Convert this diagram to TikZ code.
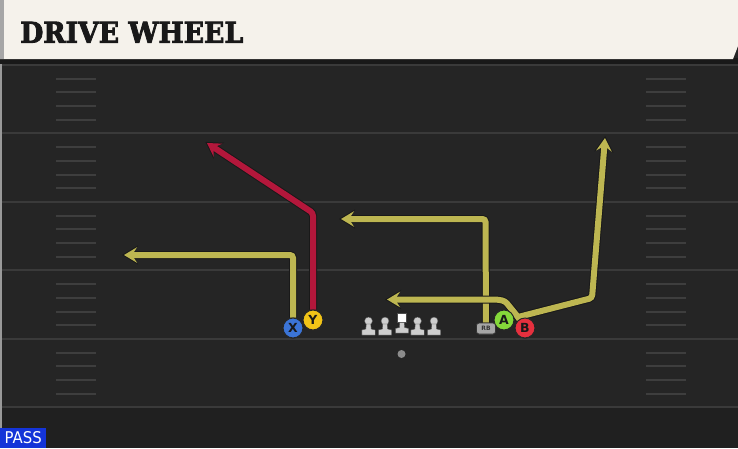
\documentclass[tikz,border=0pt]{standalone}
\usepackage{fontspec}
\setmainfont{DejaVu Sans}
\newfontfamily\titlefont{DejaVu Serif}[FakeBold=3]
\usetikzlibrary{arrows.meta}
\definecolor{field}{HTML}{252525}
\definecolor{fieldlow}{HTML}{202020}
\definecolor{cream}{HTML}{F5F2EB}
\definecolor{yardc}{HTML}{3A3A3A}
\definecolor{hashc}{HTML}{3E3E3E}
\definecolor{routeol}{HTML}{BDB651}
\definecolor{routered}{HTML}{B3173B}
\definecolor{pblue}{HTML}{3B74D6}
\definecolor{pyellow}{HTML}{F1C317}
\definecolor{pgreen}{HTML}{84D83A}
\definecolor{pred}{HTML}{E5303E}
\definecolor{lmgray}{HTML}{CDCDCD}
\definecolor{passblue}{HTML}{1434D8}
\tikzset{
  yard/.style={draw=yardc, line width=2pt},
  hash/.style={draw=hashc, line width=2pt},
  routeout/.style={draw=black!90, line width=8pt, rounded corners=3pt,
    -{Stealth[length=16pt,width=19pt,inset=6pt]}, shorten >=-2pt},
  routein/.style={line width=6pt, rounded corners=3pt,
    -{Stealth[length=13pt,width=15.5pt,inset=5pt]}},
  player/.style={circle, draw=black!85, line width=1pt, minimum size=20pt,
    inner sep=0pt, font=\fontsize{12.5}{12.5}\selectfont\bfseries, text=black!90},
  rbstyle/.style={draw=black!80, fill=black!35, rounded corners=2.5pt, line width=0.8pt,
    minimum width=19pt, minimum height=11pt, inner sep=0pt,
    font=\fontsize{6}{6}\selectfont\bfseries, text=black!80},
  lineman/.pic={
    \fill[lmgray, draw=black!70, line width=0.4pt] (0,-14) circle (4);
    \fill[lmgray, draw=black!70, line width=0.4pt]
      (-2.2,-11) -- (2.2,-11) -- (2.7,-6) -- (6.7,-5) -- (6.7,0) -- (-6.7,0) -- (-6.7,-5) -- (-2.7,-6) -- cycle;
  },
  center/.pic={
    \fill[white, draw=black!70, line width=0.4pt] (-4.5,-19.7) rectangle (4.5,-10.5);
    \fill[lmgray, draw=black!70, line width=0.4pt]
      (-2.2,-10.5) -- (2.2,-10.5) -- (2.7,-5.5) -- (6.7,-4.5) -- (6.7,0) -- (-6.7,0) -- (-6.7,-4.5) -- (-2.7,-5.5) -- cycle;
  }
}
\begin{document}
\begin{tikzpicture}[x=1pt,y=-1pt]
\useasboundingbox (0,0) rectangle (738,448);
% field
\fill[field] (0,0) rectangle (738,448);
\fill[fieldlow] (0,408) rectangle (738,448);
\fill[black!40] (0,59) rectangle (2,448);
% yard lines
\foreach \yy in {65,133,201.5,270,338.5,407}{
  \draw[yard] (2,\yy) -- (738,\yy);
}
% hash marks
\foreach \b in {65,133.5,202,270.5,339}{
  \foreach \k in {1,2,3,4}{
    \pgfmathsetmacro{\hy}{\b+\k*13.7}
    \draw[hash] (56,\hy) -- (96,\hy);
    \draw[hash] (646,\hy) -- (686,\hy);
  }
}
% header
\fill[black!90] (0,58) rectangle (738,64);
\fill[cream] (0,0) -- (738,0) -- (738,46) -- (733,59) -- (0,59) -- cycle;
\fill[black!35] (0,0) rectangle (4,59);
\node[anchor=south west, inner sep=0pt, text=black!90] (title) at (20,43)
  {\resizebox{223pt}{21pt}{\titlefont\bfseries DRIVE WHEEL}};
% players
\node[player, fill=pblue] (X) at (293,328) {X};
\node[player, fill=pyellow] (Y) at (313,320) {Y};
\node[player, fill=pgreen] (A) at (504,320) {A};
\node[player, fill=pred] (B) at (525,328) {B};
\node[rbstyle] (RB) at (486,328.5) {RB};
\node[circle, fill=black!45, minimum size=8pt, inner sep=0pt] (ball) at (401.5,354) {};
% route coordinates
\coordinate (xc) at (293,255);
\coordinate (xe) at (124,255);
\coordinate (yc) at (313,213);
\coordinate (ye) at (207,143);
\coordinate (rc) at (485.5,219);
\coordinate (re) at (341,219);
\coordinate (bj) at (518,317);
\coordinate (b1) at (505,301);
\coordinate (b2) at (497,299.5);
\coordinate (be) at (387,299.5);
\coordinate (bc) at (592,298);
\coordinate (bt) at (605,138);
% routes (outline then colour)
\draw[routeout] (X) -- (xc) -- (xe);
\draw[routein, draw=routeol] (X) -- (xc) -- (xe);
\draw[routeout] (Y) -- (yc) -- (ye);
\draw[routein, draw=routered] (Y) -- (yc) -- (ye);
\draw[routeout] (RB) -- (rc) -- (re);
\draw[routein, draw=routeol] (RB) -- (rc) -- (re);
\draw[routeout] (B) -- (bj) -- (b1) -- (b2) -- (be);
\draw[routeout] (bj) -- (bc) -- (bt);
\draw[routein, draw=routeol] (B) -- (bj) -- (b1) -- (b2) -- (be);
\draw[routein, draw=routeol] (bj) -- (bc) -- (bt);
% redraw players on top
\node[player, fill=pblue] at (X) {X};
\node[player, fill=pyellow] at (Y) {Y};
\node[player, fill=pgreen] at (A) {A};
\node[player, fill=pred] at (B) {B};
\node[rbstyle] at (RB) {RB};
% line
\pic (lt) at (368.5,335) {lineman};
\pic (lg) at (385,335) {lineman};
\pic (c) at (402,333) {center};
\pic (rg) at (417.5,335) {lineman};
\pic (rt) at (434,335) {lineman};
% pass badge
\node[fill=passblue, text=white, anchor=south west, minimum width=46pt,
  minimum height=20pt, inner sep=0pt] (pass) at (0,448)
  {\resizebox{37pt}{12pt}{PASS}};
\end{tikzpicture}
\end{document}
